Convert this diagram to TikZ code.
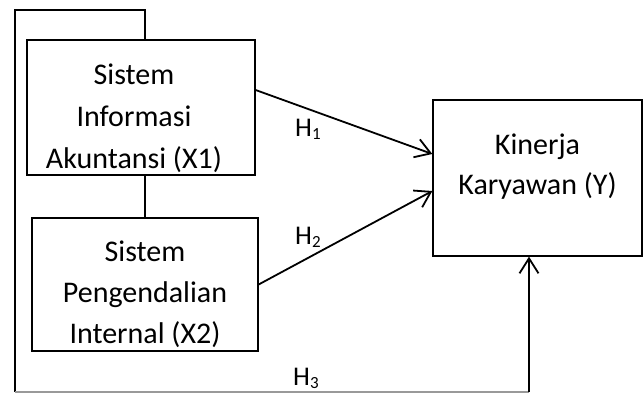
\documentclass[tikz,border=0pt]{standalone}
\usepackage{fontspec}
\setmainfont{Carlito}
\usetikzlibrary{arrows.meta,calc}
\begin{document}
\begin{tikzpicture}[x=1pt,y=-1pt,
  box/.style={draw=black,line width=1.3pt,inner sep=0pt},
  btxt/.style={align=center,inner sep=0pt,anchor=north,font=\fontsize{30}{42}\selectfont},
  hlab/.style={inner sep=0pt,anchor=base west,font=\fontsize{27}{27}\selectfont},
  conn/.style={line width=1.8pt},
  arr/.style={conn,-{Straight Barb[length=15pt,width=19pt,line width=1.8pt]}},
  greyline/.style={draw=black!40,line width=1.6pt}
]
\useasboundingbox (0,0) rectangle (643,394);
% boxes
\node[box,minimum width=228pt,minimum height=135pt] (x1) at (141,107.5) {};
\node[box,minimum width=226pt,minimum height=133pt] (x2) at (145,284.5) {};
\node[box,minimum width=209pt,minimum height=156pt] (y) at (537.5,178) {};
% box texts
\node[btxt] (t1) at (134,64) {Sistem\\Informasi\\Akuntansi (X1)};
\node[btxt,font=\fontsize{30}{41}\selectfont] (t2) at (145,241) {Sistem\\Pengendalian\\Internal (X2)};
\node[btxt,font=\fontsize{30}{40}\selectfont] (ty) at (537.5,134) {Kinerja\\Karyawan (Y)};
% loop coordinates
\coordinate (tr) at (145,10);
\coordinate (tl) at (15,10);
\coordinate (bl) at (15,392);
\coordinate (br) at (529,392);
% connectors
\draw[conn] (x1.north -| x2.north) -- (tr) -- (tl) -- (bl);
\draw[conn] (x1.south -| x2.north) -- (x2.north);
\draw[greyline] (bl) -- (br);
\draw[arr] (br) -- (br |- y.south);
\draw[arr] ([yshift=17.5pt]x1.east) -- ([yshift=24pt]y.west);
\draw[arr] (x2.east) -- ([yshift=-13pt]y.west);
% labels
\node[hlab] (h1) at (295,136) {H\raisebox{-3pt}{\fontsize{17}{17}\selectfont 1}};
\node[hlab] (h2) at (295,244) {H\raisebox{-3pt}{\fontsize{17}{17}\selectfont 2}};
\node[hlab] (h3) at (293,385) {H\raisebox{-3pt}{\fontsize{17}{17}\selectfont 3}};
\end{tikzpicture}
\end{document}
